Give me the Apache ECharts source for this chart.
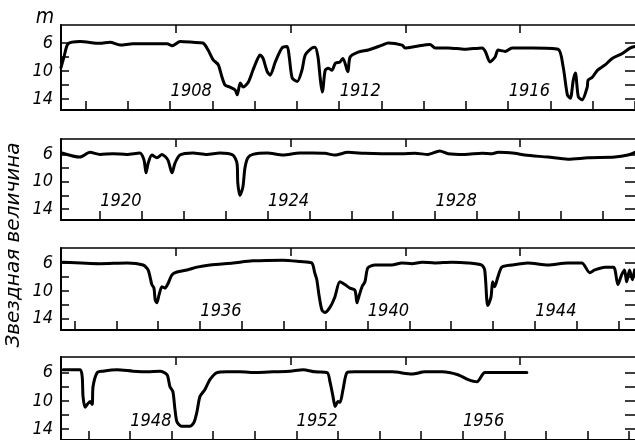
<!DOCTYPE html>
<html><head><meta charset="utf-8">
<script src="https://cdn.jsdelivr.net/npm/echarts@6/dist/echarts.min.js"></script>
<style>html,body{margin:0;padding:0;background:#fff}#c{width:635px;height:440px}</style>
</head><body><div id="c"></div>
<script>
// ---- data (years, stellar magnitude) ----
const panel1Dates = [1905.42,1905.49,1905.59,1905.87,1906.34,1906.58,1906.82,1907.12,1907.53,1907.93,1908.05,1908.24,1908.54,1908.78,1908.90,1909.02,1909.14,1909.23,1909.30,1909.42,1909.54,1909.59,1909.66,1909.73,1909.85,1909.96,1910.06,1910.13,1910.20,1910.30,1910.37,1910.49,1910.65,1910.77,1910.82,1910.89,1911.01,1911.12,1911.20,1911.36,1911.43,1911.50,1911.55,1911.60,1911.62,1911.67,1911.74,1911.83,1911.91,1912.02,1912.09,1912.19,1912.21,1912.26,1912.45,1912.69,1913.02,1913.16,1913.49,1913.56,1913.80,1914.15,1914.27,1914.58,1914.98,1915.38,1915.46,1915.57,1915.69,1915.76,1915.93,1916.09,1916.57,1917.18,1917.30,1917.40,1917.47,1917.54,1917.59,1917.66,1917.75,1917.87,1917.89,1917.99,1918.11,1918.30,1918.46,1918.70,1918.89,1919.0];
const panel1Mags = [9.5,8.0,6.1,5.8,6.05,5.9,6.3,6.1,6.1,6.1,6.4,5.8,5.9,6.0,7.0,8.4,9.1,10.9,12.0,12.3,12.7,13.4,11.7,12.3,11.6,9.9,8.4,7.7,8.2,10.1,10.6,8.7,6.7,6.5,8.0,11.0,11.5,9.9,7.7,6.7,6.6,8.0,10.9,13.0,12.5,9.9,9.6,9.9,8.9,8.7,8.2,9.9,10.1,8.0,7.3,7.0,6.3,6.0,6.3,6.7,6.5,6.2,6.7,6.7,6.9,6.7,7.2,8.7,8.0,7.0,7.2,6.7,6.7,6.9,9.4,13.4,13.9,11.3,10.3,13.7,14.1,12.3,11.3,10.9,9.9,9.1,8.2,7.5,6.7,6.5];

const panel2Dates = [1919.09,1919.52,1919.76,1920.0,1920.31,1920.64,1920.95,1921.05,1921.10,1921.15,1921.24,1921.36,1921.48,1921.62,1921.72,1921.79,1921.91,1922.22,1922.55,1922.86,1923.17,1923.27,1923.29,1923.34,1923.41,1923.46,1923.53,1923.65,1923.99,1924.37,1924.77,1925.08,1925.37,1925.61,1925.92,1926.32,1926.73,1927.21,1927.52,1927.83,1928.11,1928.31,1928.71,1929.12,1929.36,1929.50,1929.90,1930.14,1930.69,1931.17,1931.65,1932.29,1932.60,1932.77];
const panel2Mags = [5.8,6.4,5.7,6.0,5.9,6.0,5.8,6.8,8.7,7.3,6.1,6.5,6.0,6.8,8.7,7.3,6.1,5.8,6.0,5.8,6.1,7.3,10.2,12.0,10.8,8.0,6.5,6.0,5.8,6.1,5.8,5.8,5.85,6.1,5.7,5.85,5.9,5.9,5.85,6.0,5.5,5.9,6.0,5.85,5.9,5.7,5.85,6.1,6.4,6.7,6.5,6.4,6.1,5.7];

const panel3Dates = [1932.73,1933.61,1934.26,1934.64,1934.76,1934.85,1934.90,1934.93,1934.97,1935.02,1935.09,1935.16,1935.24,1935.33,1935.45,1935.69,1935.93,1936.24,1936.79,1937.26,1937.98,1938.39,1938.67,1938.74,1938.79,1938.84,1938.91,1938.98,1939.10,1939.22,1939.34,1939.46,1939.58,1939.70,1939.75,1939.77,1939.87,1939.94,1940.01,1940.18,1940.58,1940.82,1941.06,1941.30,1941.61,1942.01,1942.40,1942.73,1942.80,1942.85,1942.87,1942.95,1942.99,1943.04,1943.11,1943.21,1943.45,1943.83,1944.31,1944.78,1945.12,1945.31,1945.43,1945.67,1945.88,1945.98,1946.07,1946.14,1946.19,1946.26,1946.33,1946.38];
const panel3Mags = [5.9,6.1,6.0,6.3,7.0,9.1,9.6,11.3,11.7,10.6,9.4,9.6,8.9,7.7,7.3,7.0,6.6,6.3,6.0,5.7,5.6,5.8,6.0,7.4,8.4,10.5,12.7,13.1,12.4,10.9,8.7,9.1,9.6,9.9,11.7,11.3,9.4,8.7,6.7,6.3,6.3,6.0,6.1,5.9,6.0,5.9,6.0,6.3,7.0,11.3,12.1,10.9,8.7,9.4,8.1,6.6,6.3,6.0,6.3,6.0,6.0,7.4,7.0,6.6,6.6,9.1,7.7,7.0,8.7,7.0,8.4,7.0];

const panel4Dates = [1946.39,1946.80,1946.85,1946.87,1946.92,1946.97,1947.04,1947.09,1947.11,1947.21,1947.35,1947.69,1948.07,1948.41,1948.72,1948.89,1948.96,1949.03,1949.08,1949.13,1949.25,1949.44,1949.54,1949.61,1949.68,1949.80,1949.92,1950.09,1950.33,1950.64,1951.05,1951.44,1951.85,1952.16,1952.45,1952.74,1952.81,1952.88,1952.93,1953.00,1953.05,1953.12,1953.22,1953.41,1953.72,1954.30,1954.78,1955.09,1955.50,1955.88,1956.13,1956.34,1956.53,1956.85,1957.25,1957.54];
const panel4Mags = [5.6,5.6,6.6,9.4,10.9,10.5,10.1,10.5,8.0,6.0,5.8,5.6,5.8,5.9,5.8,6.3,8.0,8.7,11.2,13.0,13.6,13.6,13.0,11.5,9.4,8.4,7.0,6.0,5.9,5.9,6.0,5.9,5.8,5.6,5.9,6.0,7.4,9.4,10.8,10.1,10.2,8.4,6.0,5.9,5.9,5.9,6.2,5.9,5.9,6.3,7.0,7.3,6.0,6.0,6.0,6.0];

const panel1YearLabels = [1908, 1912, 1916];
const panel2YearLabels = [1920, 1924, 1928];
const panel3YearLabels = [1936, 1940, 1944];
const panel4YearLabels = [1948, 1952, 1956];

const magTicks = [6, 8, 10, 12, 14];
const magLabels = [6, 10, 14];
const frameTicks = [1, 2, 3, 4];
const yTitle = 'Звездная величина';
const unitLabel = 'm';

// ---- layout ----
const FONT = "'DejaVu Sans Condensed','DejaVu Sans',sans-serif";
const panels = [
  {dates: panel1Dates, mags: panel1Mags, labels: panel1YearLabels, xMin: 1905.42, xMax: 1919.0,  yMin: 3.43, yMax: 15.57, top: 25,  height: 85},
  {dates: panel2Dates, mags: panel2Mags, labels: panel2YearLabels, xMin: 1919.07, xMax: 1932.77, yMin: 3.75, yMax: 15.6,  top: 139, height: 81},
  {dates: panel3Dates, mags: panel3Mags, labels: panel3YearLabels, xMin: 1932.68, xMax: 1946.39, yMin: 3.86, yMax: 15.6,  top: 248, height: 82},
  {dates: panel4Dates, mags: panel4Mags, labels: panel4YearLabels, xMin: 1946.34, xMax: 1960.14, yMin: 3.8,  yMax: 15.53, top: 357, height: 84}
];

const grid = [], xAxis = [], yAxis = [], series = [];
panels.forEach((p, i) => {
  grid.push({left: 61, right: 0, top: p.top, height: p.height});
  const yearTicks = [];
  for (let y = Math.ceil(p.xMin); y <= Math.floor(p.xMax); y++) yearTicks.push(y);
  xAxis.push({
    type: 'value', gridIndex: i, position: 'bottom', min: p.xMin, max: p.xMax,
    axisLine: {show: true, lineStyle: {color: '#000', width: 2}},
    axisTick: {show: true, inside: true, length: 9, customValues: yearTicks, lineStyle: {color: '#000', width: 1.5}},
    axisLabel: {show: true, inside: true, margin: 10, customValues: p.labels.map(v => v + 0.5),
      formatter: v => String(Math.floor(v)), color: '#000', fontSize: 18, fontStyle: 'italic', fontFamily: FONT},
    splitLine: {show: false}
  });
  xAxis.push({
    type: 'value', gridIndex: i, position: 'top', min: 0, max: 5,
    axisLine: {show: true, lineStyle: {color: '#000', width: 1.6}},
    axisTick: {show: true, inside: true, length: 8, customValues: frameTicks, lineStyle: {color: '#000', width: 1.5}},
    axisLabel: {show: false}, splitLine: {show: false}
  });
  yAxis.push({
    type: 'value', gridIndex: i, position: 'left', inverse: true, min: p.yMin, max: p.yMax,
    axisLine: {show: true, lineStyle: {color: '#000', width: 2}},
    axisTick: {show: true, inside: true, length: 8, customValues: magTicks, lineStyle: {color: '#000', width: 1.5}},
    axisLabel: {show: true, margin: 8, customValues: magLabels, color: '#000', fontSize: 18, fontStyle: 'italic', fontFamily: FONT},
    splitLine: {show: false}
  });
  yAxis.push({
    type: 'value', gridIndex: i, position: 'right', inverse: true, min: p.yMin, max: p.yMax,
    axisLine: {show: false},
    axisTick: {show: true, inside: true, length: 10, customValues: magTicks, lineStyle: {color: '#000', width: 1.5}},
    axisLabel: {show: false}, splitLine: {show: false}
  });
  series.push({
    type: 'line', xAxisIndex: 2 * i, yAxisIndex: 2 * i,
    data: p.dates.map((d, k) => [d, p.mags[k]]),
    showSymbol: false, smooth: 0.25, clip: true,
    lineStyle: {color: '#000', width: 3, join: 'round', cap: 'round'},
    animation: false
  });
});

const chart = echarts.init(document.getElementById('c'), null, {renderer: 'canvas'});
chart.setOption({
  animation: false,
  backgroundColor: '#fff',
  grid, xAxis, yAxis, series,
  graphic: [
    {type: 'text', x: 45, y: 18, style: {text: unitLabel, fill: '#000', font: "italic 21px " + FONT, textAlign: 'center', textVerticalAlign: 'middle'}},
    {type: 'text', x: 14, y: 245, rotation: Math.PI / 2, style: {text: yTitle, fill: '#000', font: "italic 20px 'DejaVu Sans', sans-serif", textAlign: 'center', textVerticalAlign: 'middle'}}
  ]
});
</script>
</body></html>
